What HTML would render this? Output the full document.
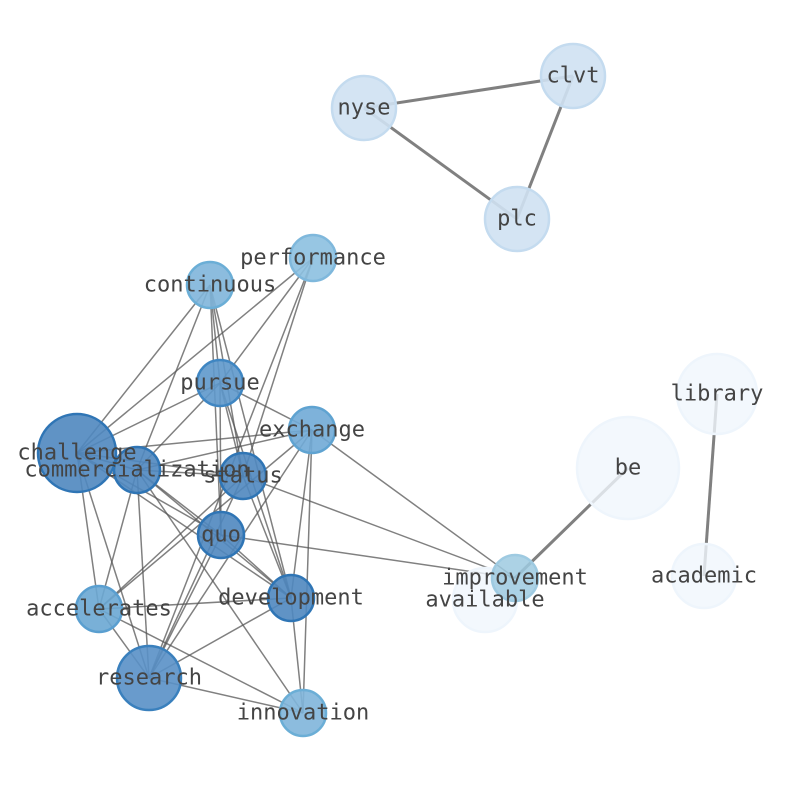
<!DOCTYPE html>
<html><head><meta charset="utf-8"><style>html,body{margin:0;background:#fff}svg{display:block}</style></head><body>
<svg width="794" height="790" xmlns="http://www.w3.org/2000/svg" font-family="'DejaVu Sans Mono','Liberation Mono',monospace" font-size="22">
<g stroke="#555" stroke-opacity="0.75" stroke-width="1.5">
<line x1="77" y1="453" x2="210" y2="285"/><line x1="77" y1="453" x2="313" y2="258"/><line x1="77" y1="453" x2="220" y2="383"/>
<line x1="77" y1="453" x2="312" y2="430"/><line x1="77" y1="453" x2="243" y2="476"/><line x1="77" y1="453" x2="221" y2="535"/>
<line x1="77" y1="453" x2="291" y2="598"/><line x1="77" y1="453" x2="99" y2="609"/><line x1="77" y1="453" x2="149" y2="678"/>
<line x1="77" y1="453" x2="137" y2="470"/>
<line x1="210" y1="285" x2="137" y2="470"/><line x1="210" y1="285" x2="220" y2="383"/><line x1="210" y1="285" x2="243" y2="476"/>
<line x1="210" y1="285" x2="221" y2="535"/><line x1="210" y1="285" x2="291" y2="598"/>
<line x1="313" y1="258" x2="220" y2="383"/><line x1="313" y1="258" x2="243" y2="476"/><line x1="313" y1="258" x2="149" y2="678"/>
<line x1="220" y1="383" x2="137" y2="470"/><line x1="220" y1="383" x2="312" y2="430"/><line x1="220" y1="383" x2="221" y2="535"/>
<line x1="220" y1="383" x2="243" y2="476"/><line x1="220" y1="383" x2="291" y2="598"/>
<line x1="312" y1="430" x2="137" y2="470"/><line x1="312" y1="430" x2="99" y2="609"/><line x1="312" y1="430" x2="291" y2="598"/>
<line x1="312" y1="430" x2="303" y2="713"/><line x1="312" y1="430" x2="515" y2="578"/><line x1="312" y1="430" x2="149" y2="678"/>
<line x1="137" y1="470" x2="243" y2="476"/><line x1="137" y1="470" x2="221" y2="535"/><line x1="137" y1="470" x2="291" y2="598"/>
<line x1="137" y1="470" x2="303" y2="713"/><line x1="137" y1="470" x2="99" y2="609"/><line x1="137" y1="470" x2="149" y2="678"/>
<line x1="243" y1="476" x2="99" y2="609"/><line x1="243" y1="476" x2="149" y2="678"/><line x1="243" y1="476" x2="515" y2="578"/>
<line x1="243" y1="476" x2="291" y2="598"/>
<line x1="221" y1="535" x2="515" y2="578"/><line x1="221" y1="535" x2="149" y2="678"/><line x1="221" y1="535" x2="291" y2="598"/>
<line x1="291" y1="598" x2="99" y2="609"/><line x1="291" y1="598" x2="149" y2="678"/><line x1="291" y1="598" x2="303" y2="713"/>
<line x1="99" y1="609" x2="149" y2="678"/><line x1="99" y1="609" x2="303" y2="713"/><line x1="149" y1="678" x2="303" y2="713"/>
</g>
<g stroke="#808080" stroke-width="3">
<line x1="515" y1="578" x2="628" y2="468"/><line x1="717" y1="394" x2="704" y2="576"/>
<line x1="364" y1="108" x2="573" y2="76"/><line x1="364" y1="108" x2="517" y2="219"/><line x1="573" y1="76" x2="517" y2="219"/>
</g>
<g stroke-width="2.5">
<circle cx="364" cy="108" r="32" fill="#cfe1f2" stroke="#c4dbef" fill-opacity="0.9"/>
<circle cx="573" cy="76" r="32" fill="#cfe1f2" stroke="#c4dbef" fill-opacity="0.9"/>
<circle cx="517" cy="219" r="32" fill="#cfe1f2" stroke="#c4dbef" fill-opacity="0.9"/>
<circle cx="628" cy="468" r="51" fill="#f0f6fc" stroke="#eef5fc" fill-opacity="0.8"/>
<circle cx="717" cy="394" r="40" fill="#f0f6fc" stroke="#eef5fc" fill-opacity="0.8"/>
<circle cx="704" cy="576" r="32" fill="#f0f6fc" stroke="#eef5fc" fill-opacity="0.8"/>
<circle cx="485" cy="600" r="32" fill="#f0f6fc" stroke="#eef5fc" fill-opacity="0.8"/>
<circle cx="515" cy="578" r="23" fill="#9ecae1" stroke="#9ecae1" fill-opacity="0.85"/>
<circle cx="313" cy="258" r="23" fill="#8cc0e0" stroke="#7fb8dc" fill-opacity="0.9"/>
<circle cx="210" cy="285" r="23" fill="#7fb5da" stroke="#6baed6" fill-opacity="0.9"/>
<circle cx="312" cy="430" r="23" fill="#70aad6" stroke="#5fa3d1" fill-opacity="0.9"/>
<circle cx="303" cy="713" r="23" fill="#7fb5da" stroke="#6baed6" fill-opacity="0.9"/>
<circle cx="99" cy="609" r="23" fill="#6aa7d3" stroke="#5a9fd0" fill-opacity="0.9"/>
<circle cx="220" cy="383" r="23" fill="#5e98cb" stroke="#3f86c2" fill-opacity="0.9"/>
<circle cx="77" cy="453" r="39" fill="#4f87bf" stroke="#2f75b5" fill-opacity="0.9"/>
<circle cx="137" cy="470" r="23" fill="#4f87bf" stroke="#2f75b5" fill-opacity="0.9"/>
<circle cx="243" cy="476" r="23" fill="#4f87bf" stroke="#2f75b5" fill-opacity="0.9"/>
<circle cx="221" cy="535" r="23" fill="#4f87bf" stroke="#2f75b5" fill-opacity="0.9"/>
<circle cx="291" cy="598" r="23" fill="#4f87bf" stroke="#2f75b5" fill-opacity="0.9"/>
<circle cx="149" cy="678" r="32" fill="#5990c6" stroke="#3a80bd" fill-opacity="0.9"/>
</g>
<g fill="#444" text-anchor="middle" dominant-baseline="central">
<text x="364" y="108">nyse</text><text x="573" y="76">clvt</text><text x="517" y="219">plc</text>
<text x="313" y="258">performance</text><text x="210" y="285">continuous</text><text x="220" y="383">pursue</text>
<text x="717" y="394">library</text><text x="312" y="430">exchange</text><text x="77" y="453">challenge</text>
<text x="628" y="468">be</text><text x="137" y="470">commercialization</text><text x="243" y="476">status</text>
<text x="221" y="535">quo</text><text x="515" y="578">improvement</text><text x="704" y="576">academic</text>
<text x="291" y="598">development</text><text x="485" y="600">available</text><text x="99" y="609">accelerates</text>
<text x="149" y="678">research</text><text x="303" y="713">innovation</text>
</g>
</svg>
</body></html>
